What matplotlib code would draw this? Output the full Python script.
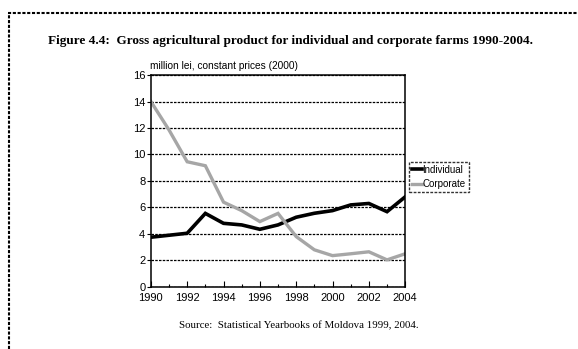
import matplotlib
matplotlib.use("Agg")
import matplotlib.pyplot as plt
from matplotlib.lines import Line2D

years = list(range(1990, 2005))
individual = [3.75, 3.9, 4.05, 5.55, 4.8, 4.68, 4.35, 4.68, 5.26, 5.56, 5.76, 6.19, 6.3, 5.68, 6.8]
corporate = [14.0, 11.85, 9.45, 9.15, 6.4, 5.76, 4.93, 5.55, 3.8, 2.8, 2.36, 2.5, 2.65, 2.04, 2.5]

title = "Figure 4.4:  Gross agricultural product for individual and corporate farms 1990-2004."
unit_label = "million lei, constant prices (2000)"
source = "Source:  Statistical Yearbooks of Moldova 1999, 2004."

sans = "Liberation Sans"
serif = "Liberation Serif"

fig = plt.figure(figsize=(5.78, 3.49), dpi=100)
ax = fig.add_axes([0.261, 0.178, 0.440, 0.607])

ax.plot(years, individual, color="black", lw=2.6, label="Individual", solid_joinstyle="miter")
ax.plot(years, corporate, color="#a6a6a6", lw=2.4, label="Corporate", solid_joinstyle="miter")

ax.set_xlim(1990, 2004)
ax.set_ylim(0, 16)
ax.set_xticks(range(1990, 2005, 2))
ax.set_xticks(range(1990, 2005), minor=True)
ax.set_yticks(range(0, 17, 2))
ax.tick_params(axis="x", direction="in", length=4, width=0.8, pad=4.5, labelsize=8)
ax.tick_params(axis="x", which="minor", direction="in", length=2, width=0.8)
ax.tick_params(axis="y", direction="out", length=3, width=0.8, pad=1, labelsize=8)
for lab in ax.get_xticklabels() + ax.get_yticklabels():
    lab.set_fontfamily(sans)

ax.yaxis.grid(True, color="black", ls=(0, (2, 1)), lw=0.9)
for sp in ax.spines.values():
    sp.set_linestyle((0, (2, 1)))
    sp.set_linewidth(1.1)

leg = ax.legend(loc="upper left", bbox_to_anchor=(1.015, 0.59), frameon=True, fancybox=False,
                prop={"family": sans, "size": 7}, handlelength=1.0, handletextpad=0.1,
                borderpad=0.3, labelspacing=0.45, borderaxespad=0)
leg.get_frame().set_edgecolor("black")
leg.get_frame().set_linestyle((0, (2, 1)))
leg.get_frame().set_linewidth(1.0)

fig.text(0.502, 0.882, title, ha="center", va="center", fontsize=9.5,
         fontweight="bold", family=serif)
fig.text(0.259, 0.81, unit_label, ha="left", va="center", fontsize=7.3, family=sans)
fig.text(0.517, 0.068, source, ha="center", va="center", fontsize=7.8, family=serif)

# dashed page frame
fig.add_artist(Line2D([0.014, 1.0], [0.963, 0.963], color="black", lw=1.5,
                      ls=(0, (1.5, 0.8)), transform=fig.transFigure))
fig.add_artist(Line2D([0.015, 0.015], [0.0, 0.963], color="black", lw=1.5,
                      ls=(0, (1.5, 0.8)), transform=fig.transFigure))

fig.savefig("out.png", dpi=100)
